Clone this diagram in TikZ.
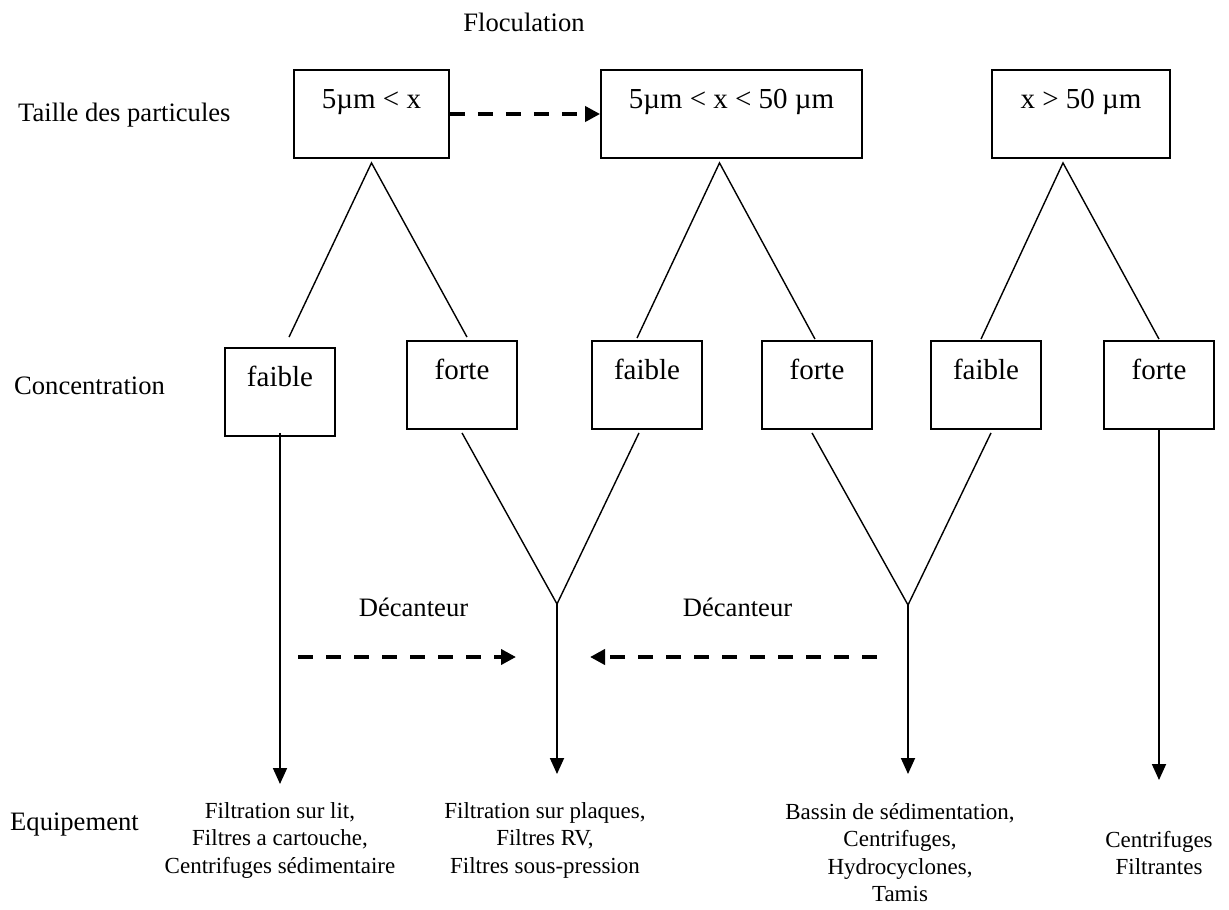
\documentclass[tikz,border=0pt]{standalone}
\usepackage{fontspec}
\setmainfont{Liberation Serif}
\usetikzlibrary{arrows.meta}

\begin{document}
\begin{tikzpicture}[x=1pt, y=-1pt,
    labeltext/.style={font=\fontsize{26.6}{32}\selectfont, inner sep=0pt, anchor=base},
    sizebox/.style={draw, line width=1.8pt, inner xsep=0pt, inner ysep=0pt,
        text height=38pt, text depth=50pt, font=\fontsize{29}{35}\selectfont},
    concbox/.style={sizebox, minimum width=110pt},
    branch/.style={line width=1.4pt},
    flow/.style={line width=1.8pt, -{Triangle[length=16pt, width=14pt]}},
    dasharrow/.style={line width=4pt, dash pattern=on 15pt off 13pt, -{Triangle[length=15pt, width=15pt]}},
    equip/.style={font=\fontsize{23}{27.5}\selectfont, align=center, inner sep=0pt, anchor=north}]
    \useasboundingbox (0,0) rectangle (1229,910);
     %row 1
     \node[labeltext] (flocu) at (524,31) {Floculation};
     \node[labeltext, anchor=base west] (taille) at (18,121) {Taille des particules};
     \node[sizebox, minimum width=155pt] (small) at (371.5,114) {5µm < x};
     \node[sizebox, minimum width=261pt] (mid) at (731.5,114) {5µm < x < 50 µm};
     \node[sizebox, minimum width=178pt] (large) at (1081,114) {x > 50 µm};
     \draw[dasharrow] (small.east) -- (mid.west);
         %row 2
     \node[labeltext, anchor=base west] (conc) at (14,394) {Concentration};
     \node[concbox] (fa1) at (280,392) {faible};
     \node[concbox] (fo1) at (462,385) {forte};
     \node[concbox] (fa2) at (647,385) {faible};
     \node[concbox] (fo2) at (817,385) {forte};
     \node[concbox] (fa3) at (986,385) {faible};
     \node[concbox] (fo3) at (1159,385) {forte};
     \draw[branch] ([xshift=9pt,yshift=10pt]fa1.north) -- ([yshift=-4pt]small.south) -- ([xshift=5pt,yshift=3pt]fo1.north);
     \draw[branch] ([xshift=-10pt,yshift=2pt]fa2.north) -- ([xshift=-12pt,yshift=-4pt]mid.south) -- ([xshift=-2pt,yshift=1pt]fo2.north);
     \draw[branch] ([xshift=-5pt,yshift=1pt]fa3.north) -- ([xshift=-18pt,yshift=-4pt]large.south) -- ([yshift=1pt]fo3.north);
               %row 3
     \coordinate (v1) at (557,604);
     \coordinate (v2) at (908,605);
     \draw[branch] ([yshift=-3pt]fo1.south) -- (v1) -- ([xshift=-8pt,yshift=-3pt]fa2.south);
     \draw[branch] ([xshift=-5pt,yshift=-3pt]fo2.south) -- (v2) -- ([xshift=5pt,yshift=-3pt]fa3.south);
     \node[labeltext] (dec1) at (413.5,616) {Décanteur};
     \node[labeltext] (dec2) at (737.5,616) {Décanteur};
     \coordinate (d1s) at (298,657);
     \coordinate (d1e) at (516,657);
     \coordinate (d2s) at (877,657);
     \coordinate (d2e) at (590,657);
     \draw[dasharrow] (d1s) -- (d1e);
     \draw[dasharrow] (d2s) -- (d2e);
          %row 4
     \coordinate (t1) at (280,784);
     \coordinate (t2) at (557,774);
     \coordinate (t3) at (908,774);
     \coordinate (t4) at (1159,780);
     \draw[flow] ([yshift=4pt]fa1.south) -- (t1);
     \draw[flow] (v1) -- (t2);
     \draw[flow] (v2) -- (t3);
     \draw[flow] (fo3.south) -- (t4);
     \node[labeltext, anchor=base west] (equipt) at (10,830) {Equipement};
     \node[equip] (eq1) at (280,802) {Filtration sur lit,\\Filtres a cartouche,\\Centrifuges sédimentaire};
     \node[equip] (eq2) at (545,802) {Filtration sur plaques,\\Filtres RV,\\Filtres sous-pression};
     \node[equip] (eq3) at (900,803) {Bassin de sédimentation,\\Centrifuges,\\Hydrocyclones,\\Tamis};
     \node[equip] (eq4) at (1159,831) {Centrifuges\\Filtrantes};
\end{tikzpicture}
\end{document}
